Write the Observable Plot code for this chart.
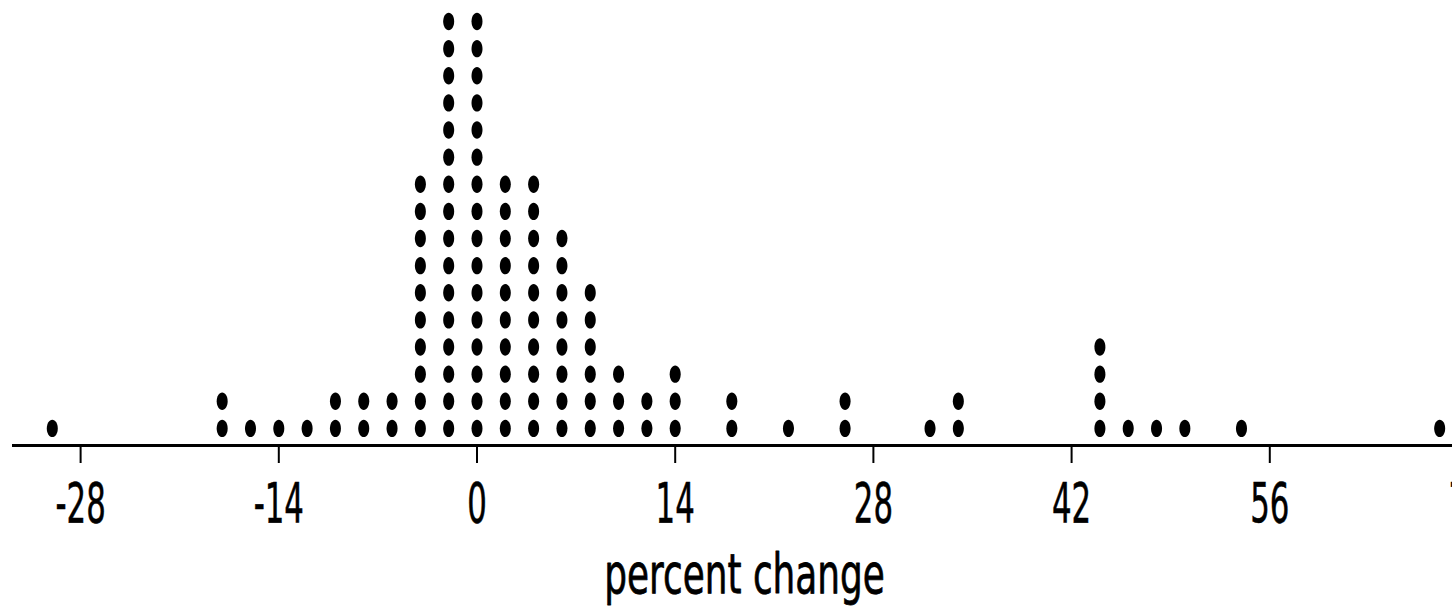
<!DOCTYPE html>
<html>
<head>
<meta charset="utf-8">
<script src="https://cdn.jsdelivr.net/npm/d3@7"></script>
<script src="https://cdn.jsdelivr.net/npm/@observablehq/plot@0.6"></script>
<style>
  html, body { margin: 0; padding: 0; background: #fff; overflow: hidden; }
  #chart { width: 1452px; height: 606px; overflow: hidden; }
  #chart svg { max-width: none !important; }
</style>
</head>
<body>
<div id="chart"></div>
<script>
// Data: bin values (percent change) and number of dots in each bin
const binValues = [-30, -18, -16, -14, -12, -10, -8, -6, -4, -2, 0, 2, 4, 6, 8, 10, 12, 14, 18, 22, 26, 32, 34, 44, 46, 48, 50, 54, 68];
const binCounts = [1, 2, 1, 1, 1, 2, 2, 2, 10, 16, 16, 10, 10, 8, 6, 3, 2, 3, 2, 1, 2, 1, 2, 4, 1, 1, 1, 1, 1];
const xTicks = [-28, -14, 0, 14, 28, 42, 56, 70];
const xLabel = "percent change";

// stack dots: one row per observation in a bin
const points = [];
binValues.forEach((v, i) => {
  for (let k = 0; k < binCounts[i]; k++) points.push({value: v, row: k});
});

// elongated (tall) dot symbol, as in the reference
const ellipseSymbol = {
  draw(context) {
    const rx = 5.5, ry = 8.7, k = 0.5523;
    context.moveTo(rx, 0);
    context.bezierCurveTo(rx, ry * k, rx * k, ry, 0, ry);
    context.bezierCurveTo(-rx * k, ry, -rx, ry * k, -rx, 0);
    context.bezierCurveTo(-rx, -ry * k, -rx * k, -ry, 0, -ry);
    context.bezierCurveTo(rx * k, -ry, rx, -ry * k, rx, 0);
    context.closePath();
  }
};

const W = 1500, H = 606;
const pxPerUnit = 14.157, zeroPx = 476.5, left = 12;
const xDomain = [(left - zeroPx) / pxPerUnit, (W - zeroPx) / pxPerUnit];
const yBase = -0.63;

const chart = Plot.plot({
  width: W,
  height: H,
  marginLeft: left,
  marginRight: 0,
  marginTop: 0,
  marginBottom: 161,
  style: {background: "white", fontFamily: "DejaVu Sans", color: "black", maxWidth: "none"},
  x: {domain: xDomain},
  y: {domain: [yBase, 15], range: [445, 21], axis: null},
  marks: [
    Plot.ruleY([yBase], {stroke: "black", strokeWidth: 3}),
    Plot.dot(points, {x: "value", y: "row", symbol: ellipseSymbol, fill: "black", stroke: "none", r: 6}),
    Plot.axisX({ticks: xTicks, tickFormat: d => String(d), tickSize: 18, tickPadding: 19, fontSize: 56, strokeWidth: 2, label: null}),
    Plot.text([xLabel], {frameAnchor: "bottom", dx: -12, dy: 147, fontSize: 56, lineAnchor: "bottom", fill: "black", stroke: "black", strokeWidth: 0.8})
  ]
});

chart.style.maxWidth = "none";
document.getElementById("chart").appendChild(chart);

// horizontally condense texts like the reference
chart.querySelectorAll("text").forEach(t => {
  const isTitle = t.textContent === xLabel;
  const s = isTitle ? 0.64 : 0.55;
  const tr = t.getAttribute("transform") || "";
  t.setAttribute("transform", tr + ` scale(${s},1)`);
  if (!isTitle) {
    t.setAttribute("stroke", "black");
    t.setAttribute("stroke-width", "0.6");
  }
});
</script>
</body>
</html>
